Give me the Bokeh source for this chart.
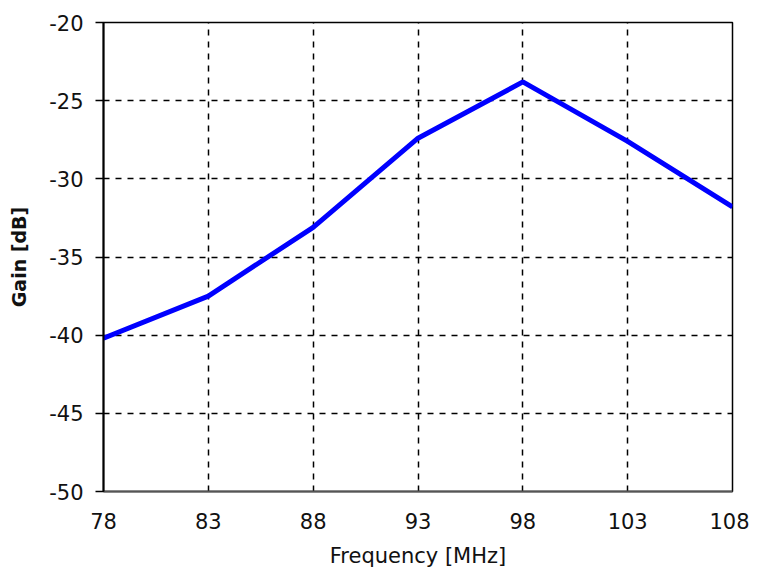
from bokeh.plotting import figure
from bokeh.models import Range1d, FixedTicker, CustomJSTickFormatter
from bokeh.embed import file_html
from bokeh.resources import INLINE

freq = [78, 83, 88, 93, 98, 103, 108]
gain = [-40.2, -37.5, -33.1, -27.4, -23.8, -27.6, -31.8]
x_ticks = [78, 83, 88, 93, 98, 103, 108]
y_ticks = [-50, -45, -40, -35, -30, -25, -20]

p = figure(frame_width=629, frame_height=469, output_backend="svg", toolbar_location=None,
           x_range=Range1d(78, 108), y_range=Range1d(-50, -20),
           min_border_left=103, min_border_top=22, min_border_right=17, min_border_bottom=60)

p.line(freq, gain, line_color="#0000ff", line_width=5)

font = "DejaVu Sans"
p.xaxis.ticker = FixedTicker(ticks=x_ticks)
p.yaxis.ticker = FixedTicker(ticks=y_ticks)
p.xaxis.formatter = CustomJSTickFormatter(code="return tick.toString();")
p.yaxis.formatter = CustomJSTickFormatter(code="return tick.toString();")
for ax in (p.xaxis[0], p.yaxis[0]):
    ax.major_label_text_font = font
    ax.major_label_text_font_size = "21px"
    ax.major_label_text_color = "#111111"
    ax.axis_label_text_font = font
    ax.axis_label_text_color = "#111111"
    ax.minor_tick_line_color = None
    ax.axis_line_color = "black"
    ax.axis_line_width = 2

p.xaxis.axis_label = "Frequency [MHz]"
p.xaxis.axis_label_text_font_size = "21px"
p.xaxis.axis_label_text_font_style = "normal"
p.xaxis.major_tick_in = 0
p.xaxis.major_tick_out = 0
p.xaxis.major_label_standoff = 21
p.xaxis.axis_label_standoff = 12
p.xaxis.axis_line_color = "#555555"

p.yaxis.axis_label = "Gain [dB]"
p.yaxis.axis_label_text_font_size = "19px"
p.yaxis.axis_label_text_font_style = "bold"
p.yaxis.major_tick_in = 0
p.yaxis.major_tick_out = 8
p.yaxis.major_tick_line_width = 1.5
p.yaxis.major_label_standoff = 12
p.yaxis.axis_label_standoff = 16

p.xgrid.grid_line_color = "black"
p.ygrid.grid_line_color = "black"
p.xgrid.grid_line_dash = "6 6"
p.ygrid.grid_line_dash = "6 6"
p.xgrid.grid_line_width = 1.5
p.ygrid.grid_line_width = 1.5

p.outline_line_color = "black"
p.outline_line_width = 1.5
p.background_fill_color = "white"
p.border_fill_color = "white"

open("out.html", "w").write(file_html(p, INLINE))
